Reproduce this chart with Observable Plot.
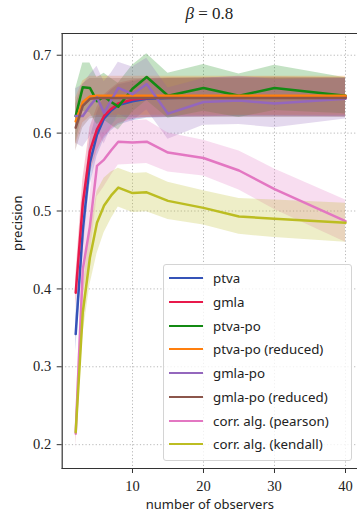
<!DOCTYPE html>
<html>
<head>
<meta charset="utf-8">
<script src="https://cdn.jsdelivr.net/npm/d3@7"></script>
<script src="https://cdn.jsdelivr.net/npm/@observablehq/plot@0.6"></script>
<style>
  html, body { margin: 0; padding: 0; background: #fff; }
  #wrap { position: relative; width: 357px; height: 513px; overflow: hidden; }
  #wrap svg { position: absolute; left: 0; top: 0; }
  .title { position: absolute; left: 61.7px; width: 295.3px; top: 4px; text-align: center;
           font-family: "Liberation Serif", serif; font-size: 17px; color: #222; white-space: nowrap; }
  .title i { font-style: italic; }
  .legend { position: absolute; left: 163px; top: 264px; width: 187px; height: 195px;
            border: 1px solid #d4d4d4; border-radius: 3px; background: rgba(255,255,255,0.8); }
  .legend .row { position: absolute; left: 0; height: 20px; }
  .legend .sw { position: absolute; left: 5px; width: 34px; height: 2px; top: 9px; }
  .legend .lab { position: absolute; left: 49px; top: 0; line-height: 20px; white-space: nowrap;
                 font-family: "Noto Sans", sans-serif; font-size: 13.3px; color: #222; }
</style>
</head>
<body>
<div id="wrap"></div>
<script>
// number of observers on the x axis
const observers = [2, 3, 4, 5, 6, 7, 8, 10, 12, 15, 20, 25, 30, 40];

const names = ["ptva", "gmla", "ptva-po", "ptva-po (reduced)", "gmla-po",
               "gmla-po (reduced)", "corr. alg. (pearson)", "corr. alg. (kendall)"];
const colors = ["#3553b8", "#e8194b", "#138a13", "#ff7f0e", "#9467bd",
                "#8c564b", "#e377c2", "#bcbd22"];

// mean precision per method
const ptva        = [0.342, 0.475, 0.562, 0.598, 0.619, 0.629, 0.636, 0.641, 0.644, 0.645, 0.646, 0.646, 0.646, 0.646];
const gmla        = [0.395, 0.510, 0.577, 0.605, 0.622, 0.631, 0.638, 0.643, 0.645, 0.646, 0.646, 0.647, 0.647, 0.646];
const ptvaPo      = [0.622, 0.659, 0.658, 0.641, 0.647, 0.640, 0.634, 0.657, 0.672, 0.648, 0.658, 0.648, 0.658, 0.648];
const ptvaPoRed   = [0.615, 0.640, 0.647, 0.648, 0.648, 0.648, 0.648, 0.648, 0.648, 0.648, 0.648, 0.648, 0.648, 0.648];
const gmlaPo      = [0.622, 0.622, 0.635, 0.646, 0.626, 0.642, 0.658, 0.650, 0.663, 0.625, 0.640, 0.642, 0.638, 0.644];
const gmlaPoRed   = [0.607, 0.635, 0.644, 0.645, 0.645, 0.645, 0.645, 0.645, 0.645, 0.645, 0.645, 0.645, 0.645, 0.645];
const pearson     = [0.214, 0.425, 0.480, 0.558, 0.566, 0.578, 0.589, 0.588, 0.589, 0.575, 0.568, 0.552, 0.528, 0.487];
const kendall     = [0.216, 0.370, 0.440, 0.485, 0.507, 0.520, 0.530, 0.523, 0.524, 0.513, 0.504, 0.493, 0.490, 0.485];

// half-width of the shaded spread around each mean
const ptvaSpread      = [0.022, 0.030, 0.030, 0.028, 0.027, 0.026, 0.026, 0.025, 0.025, 0.025, 0.025, 0.025, 0.025, 0.025];
const gmlaSpread      = [0.020, 0.030, 0.030, 0.028, 0.027, 0.026, 0.026, 0.025, 0.025, 0.025, 0.025, 0.025, 0.025, 0.025];
const ptvaPoSpread    = [0.035, 0.031, 0.032, 0.030, 0.030, 0.030, 0.030, 0.030, 0.030, 0.029, 0.030, 0.028, 0.029, 0.023];
const ptvaPoRedSpread = [0.030, 0.027, 0.026, 0.025, 0.025, 0.025, 0.025, 0.025, 0.025, 0.025, 0.025, 0.025, 0.025, 0.025];
const gmlaPoSpread    = [0.035, 0.040, 0.040, 0.040, 0.040, 0.035, 0.033, 0.035, 0.033, 0.033, 0.030, 0.031, 0.031, 0.026];
const gmlaPoRedSpread = [0.030, 0.028, 0.026, 0.025, 0.025, 0.025, 0.025, 0.025, 0.025, 0.025, 0.025, 0.025, 0.025, 0.025];
const pearsonSpread   = [0.020, 0.035, 0.040, 0.040, 0.035, 0.032, 0.030, 0.028, 0.028, 0.025, 0.023, 0.025, 0.026, 0.027];
const kendallSpread   = [0.015, 0.030, 0.035, 0.040, 0.035, 0.030, 0.025, 0.025, 0.025, 0.024, 0.022, 0.023, 0.024, 0.025];

const xTicks = [10, 20, 30, 40];
const yTicks = [0.2, 0.3, 0.4, 0.5, 0.6, 0.7];

const means = [ptva, gmla, ptvaPo, ptvaPoRed, gmlaPo, gmlaPoRed, pearson, kendall];
const spreads = [ptvaSpread, gmlaSpread, ptvaPoSpread, ptvaPoRedSpread, gmlaPoSpread, gmlaPoRedSpread, pearsonSpread, kendallSpread];

const rows = [];
names.forEach((name, s) => {
  observers.forEach((x, i) => {
    const y = means[s][i], e = spreads[s][i];
    rows.push({name, x, y, lo: y - e, hi: y + e});
  });
});

const serif = "Liberation Serif, serif";
const sans = "Noto Sans, sans-serif";

const chart = Plot.plot({
  width: 357,
  height: 513,
  marginLeft: 61.7,
  marginRight: 0,
  marginTop: 33,
  marginBottom: 45,
  style: {background: "transparent", overflow: "visible"},
  x: {domain: [0.1, 41.69]},
  y: {domain: [0.1694, 0.7279]},
  color: {domain: names, range: colors},
  marks: [
    Plot.ruleX(xTicks, {stroke: "#b8b8b8", strokeWidth: 1, strokeDasharray: "1.2,2.2"}),
    Plot.ruleY(yTicks, {stroke: "#b8b8b8", strokeWidth: 1, strokeDasharray: "1.2,2.2"}),
    Plot.areaY(rows, {x: "x", y1: "lo", y2: "hi", z: "name", fill: "name", fillOpacity: 0.25, curve: "linear"}),
    Plot.lineY(rows, {x: "x", y: "y", z: "name", stroke: "name", strokeWidth: 2.5, curve: "linear"}),
    Plot.axisX(xTicks, {tickSize: 5, tickPadding: 7, fontSize: 14.5, fontFamily: serif, fill: "#222", stroke: "#333", label: null}),
    Plot.axisY(yTicks, {tickSize: 5, tickPadding: 6, fontSize: 14.5, fontFamily: serif, fill: "#222", stroke: "#333", label: null, tickFormat: d3.format(".1f")}),
    Plot.frame({anchor: "left", stroke: "#333", strokeWidth: 1.2}),
    Plot.frame({anchor: "bottom", stroke: "#333", strokeWidth: 1.2}),
    Plot.frame({anchor: "top", stroke: "#333", strokeWidth: 1.2}),
    Plot.text(["number of observers"], {frameAnchor: "bottom", dy: 40, fontFamily: sans, fontSize: 13, fill: "#222"}),
    Plot.text(["precision"], {frameAnchor: "left", dx: -44.7, rotate: -90, fontFamily: sans, fontSize: 13, fill: "#222"})
  ]
});

const wrap = document.getElementById("wrap");
wrap.appendChild(chart);

const title = document.createElement("div");
title.className = "title";
title.innerHTML = "<i>β</i> = 0.8";
wrap.appendChild(title);

// legend inside the plotting area
const legend = document.createElement("div");
legend.className = "legend";
names.forEach((name, i) => {
  const row = document.createElement("div");
  row.className = "row";
  row.style.top = Math.round(3.3 + i * 23.7) + "px";
  const sw = document.createElement("div");
  sw.className = "sw";
  sw.style.background = colors[i];
  const lab = document.createElement("div");
  lab.className = "lab";
  lab.textContent = name;
  row.appendChild(sw);
  row.appendChild(lab);
  legend.appendChild(row);
});
wrap.appendChild(legend);
</script>
</body>
</html>
